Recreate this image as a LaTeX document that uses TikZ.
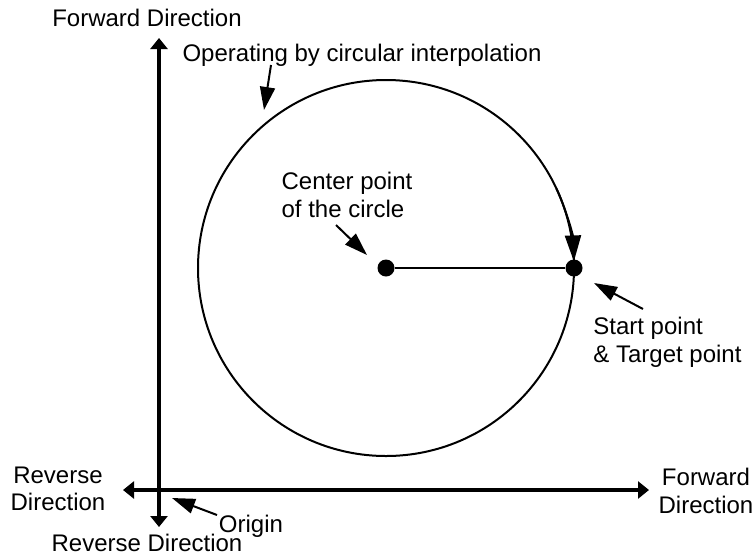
\documentclass[tikz,border=0pt]{standalone}
\usepackage{fontspec}
\setmainfont{Liberation Sans}
\usetikzlibrary{arrows.meta}
\tikzset{
  axis/.style ={line width=1.6pt,
                {Triangle[length=5.5pt,width=8.5pt]}-{Triangle[length=5.5pt,width=8.5pt]}},
  ptr/.style  ={line width=1pt, -{Triangle[length=11.5pt,width=7.5pt]}},
  dot/.style  ={circle, fill, inner sep=0pt, minimum size=8.5pt},
  lbl/.style  ={font=\fontsize{12}{13.8}\selectfont, inner sep=0pt, align=center},
}

\begin{document}
\begin{tikzpicture}[x=0.5pt, y=-0.5pt]
  \useasboundingbox (0,0) rectangle (755,559);

  % axes
  \coordinate (ytop)   at (159,38);
  \coordinate (ybot)   at (159,527);
  \coordinate (xleft)  at (123,490);
  \coordinate (xright) at (649,490);
  \draw[axis] (ybot) -- (ytop);
  \draw[axis] (xleft) -- (xright);

  % circle
  \coordinate (cen) at (386,268);
  \draw[line width=1pt] (cen) circle[radius=188];
  \draw[line width=1pt, -{Triangle[length=13pt,width=8pt]}]
    (cen) ++(-25:188) arc[start angle=-25, end angle=-2, radius=188];
  \node[dot] (cdot) at (cen) {};
  \node[dot] (sdot) at (574,268) {};
  \draw[line width=1pt] (cdot) -- (sdot);

  % labels
  \node[lbl] (fwdy)  at (147,18)  {Forward Direction};
  \node[lbl] (revy)  at (147,543) {Reverse Direction};
  \node[lbl] (revx)  at (58,489)  {Reverse\\Direction};
  \node[lbl] (fwdx)  at (706,491) {Forward\\Direction};
  \node[lbl] (oplbl) at (362,55)  {Operating by circular interpolation};
  \node[lbl, align=left] (cenlbl) at (347,195) {Center point\\of the circle};
  \node[lbl, align=left, anchor=west] (stlbl) at (593,342) {Start point\\\& Target point};
  \node[lbl] (orglbl) at (251,526) {Origin};

  % pointers
  \coordinate (opTail)  at (271,65);
  \coordinate (opTip)   at (264,110);
  \coordinate (cenTail) at (336,225);
  \coordinate (cenTip)  at (367,255);
  \coordinate (stTail)  at (643,309);
  \coordinate (stTip)   at (594,283);
  \coordinate (orgTail) at (217,515);
  \coordinate (orgTip)  at (172,498);
  \draw[ptr] (opTail)  -- (opTip);
  \draw[ptr] (cenTail) -- (cenTip);
  \draw[ptr] (stTail)  -- (stTip);
  \draw[ptr] (orgTail) -- (orgTip);
\end{tikzpicture}
\end{document}
